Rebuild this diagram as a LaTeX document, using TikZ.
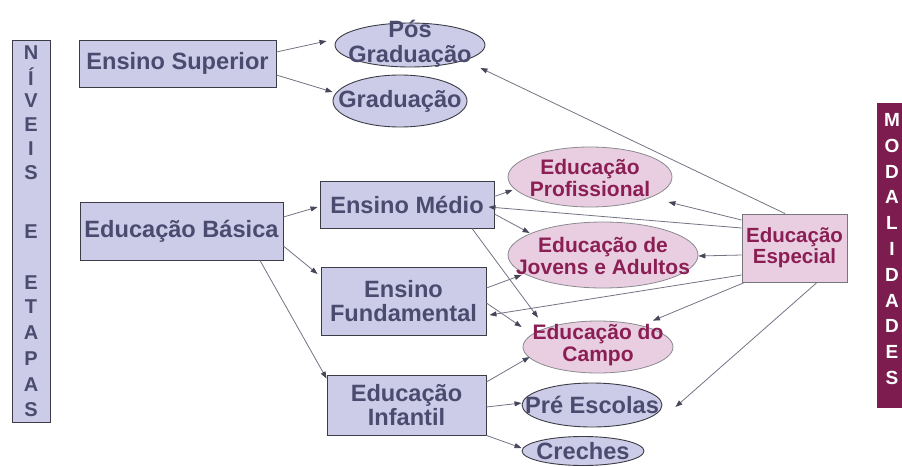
\documentclass[tikz,border=0pt]{standalone}
\usepackage{fontspec}
\setmainfont{Liberation Sans}
\usetikzlibrary{shapes.geometric,arrows.meta}
\definecolor{bfill}{RGB}{204,204,232}
\definecolor{btext}{RGB}{75,75,112}
\definecolor{pfill}{RGB}{232,206,224}
\definecolor{ptext}{RGB}{139,31,85}
\definecolor{mfill}{RGB}{125,29,79}
\definecolor{edgec}{RGB}{60,60,70}
\definecolor{arrc}{RGB}{115,115,132}
\definecolor{arrh}{RGB}{70,70,90}
\begin{document}
\begin{tikzpicture}[x=1pt,y=-1pt,
  bbox/.style={rectangle,draw=edgec,line width=0.9pt,fill=bfill,text=btext,
    font=\fontsize{23.6}{24}\selectfont\bfseries,align=center,inner sep=0pt},
  bell/.style={ellipse,draw=edgec,line width=0.9pt,fill=bfill,inner sep=0pt},
  pell/.style={ellipse,draw=edgec!60,line width=0.8pt,fill=pfill,inner sep=0pt},
  btxt/.style={text=btext,font=\fontsize{23.6}{25}\selectfont\bfseries,align=center,inner sep=0pt},
  ptxt/.style={text=ptext,font=\fontsize{21}{22}\selectfont\bfseries,align=center,inner sep=0pt},
  pbox/.style={rectangle,draw=edgec!70,line width=0.9pt,fill=pfill,text=ptext,
    font=\fontsize{20.5}{21}\selectfont\bfseries,align=center,inner sep=0pt},
  lett/.style={text=btext,font=\fontsize{20}{20}\selectfont\bfseries,inner sep=0pt},
  rlett/.style={text=white,font=\fontsize{19}{19}\selectfont\bfseries,inner sep=0pt},
  conn/.style={draw=arrc,line width=0.8pt,-{Triangle[length=7pt,width=5pt,color=arrh]}}
]
\useasboundingbox (0,0) rectangle (902,466);

% side boxes
\node[rectangle,draw=edgec,line width=0.9pt,fill=bfill,minimum width=38pt,minimum height=382pt,inner sep=0pt] (niveis) at (31,231) {};
\foreach \l/\yy [count=\i] in {N/53,Í/77,V/101,E/125,I/149,S/173,E/232,E/283,T/307,A/333,P/359,A/385,S/410}
  \node[lett] (lv\i) at (31,\yy) {\l};

\node[rectangle,fill=mfill,minimum width=33pt,minimum height=305pt,inner sep=0pt,anchor=north west] (modal) at (877,103) {};
\foreach \l [count=\i] in {M,O,D,A,L,I,D,A,D,E,S}
  \node[rlett] (rv\i) at (892,{120+(\i-1)*25.8}) {\l};

% blue boxes
\node[bbox,minimum width=197pt,minimum height=47pt] (ensSup) at (177.5,63.5) {Ensino Superior};
\node[bbox,minimum width=203pt,minimum height=58pt] (edBas) at (181.5,231) {Educação Básica};
\node[bbox,minimum width=174pt,minimum height=47pt] (medio) at (407,204.5) {Ensino Médio};
\node[bbox,minimum width=165pt,minimum height=68pt] (fund) at (403.5,301) {Ensino\\Fundamental};
\node[bbox,minimum width=159pt,minimum height=60pt] (infantil) at (406.5,405) {Educação\\Infantil};

% blue ellipses
\node[bell,minimum width=150pt,minimum height=44pt] (pos) at (410,45) {};
\node[btxt] (posT) at (410,44) {Pós\\Graduação};
\node[bell,minimum width=134pt,minimum height=52pt] (grad) at (400,101) {};
\node[btxt] (gradT) at (400,101) {Graduação};
\node[bell,minimum width=140pt,minimum height=44pt] (pre) at (592,405) {};
\node[btxt] (preT) at (592,405) {Pré Escolas};
\node[bell,minimum width=122pt,minimum height=29pt] (creches) at (583,451) {};
\node[btxt] (crechesT) at (583,451) {Creches};

% pink ellipses
\node[pell,minimum width=164pt,minimum height=60pt] (prof) at (590,177) {};
\node[ptxt] (profT) at (590,178) {Educação\\Profissional};
\node[pell,minimum width=190pt,minimum height=66pt] (eja) at (603,255) {};
\node[ptxt] (ejaT) at (603,256) {Educação de\\Jovens e Adultos};
\node[pell,minimum width=150pt,minimum height=52pt] (campo) at (598,347) {};
\node[ptxt] (campoT) at (598,345) {Educação do\\Campo};

% pink box
\node[pbox,minimum width=105pt,minimum height=68pt] (esp) at (794.5,248) {Educação\\Especial};

% connectors
\draw[conn] ([yshift=11.5pt]ensSup.east) -- ([xshift=-8pt,yshift=4pt]pos.west);
\draw[conn] ([yshift=-11.5pt]ensSup.east) -- ([yshift=9pt]grad.west);
\draw[conn] ([yshift=14pt]edBas.east) -- ([xshift=-2pt,yshift=-2.5pt]medio.west);
\draw[conn] ([yshift=-15pt]edBas.east) -- ([xshift=-3pt,yshift=27pt]fund.west);
\draw[conn] ([xshift=78.5pt]edBas.south) -- ([yshift=-4pt]infantil.north west);
\draw[conn] ([yshift=8pt]medio.east) -- ([xshift=5pt,yshift=-13pt]prof.west);
\draw[conn] ([yshift=-9.5pt]medio.east) -- ([xshift=22pt,yshift=22pt]eja.west);
\draw[conn] ([xshift=65pt]medio.south) -- ([xshift=-60pt,yshift=3pt]campo.north);
\draw[conn] ([yshift=20pt]esp.west) -- ([xshift=-6pt,yshift=-2.5pt]medio.east);
\draw[conn] ([yshift=28pt]esp.west) -- ([xshift=-4pt,yshift=-25pt]prof.east);
\draw[conn] ([xshift=-9.5pt]esp.north) -- ([xshift=-5pt,yshift=-23pt]pos.east);
\draw[conn] ([yshift=-7pt]esp.west) -- ([yshift=-1pt]eja.east);
\draw[conn] ([yshift=-27pt]esp.west) -- ([xshift=3pt,yshift=-14pt]fund.east);
\draw[conn] ([xshift=3pt]esp.south west) -- ([xshift=55pt]campo.north);
\draw[conn] ([xshift=22.5pt]esp.south) -- ([xshift=13pt,yshift=-2pt]pre.east);
\draw[conn] ([yshift=13pt]fund.east) -- ([xshift=14pt,yshift=-20pt]eja.west);
\draw[conn] ([yshift=-2pt]fund.east) -- ([xshift=-1pt,yshift=20pt]campo.west);
\draw[conn] ([yshift=23pt]infantil.east) -- ([xshift=7pt,yshift=-10pt]campo.west);
\draw[conn] ([yshift=-2pt]infantil.east) -- ([yshift=2pt]pre.west);
\draw[conn] (infantil.south east) -- ([yshift=3pt]creches.west);
\end{tikzpicture}
\end{document}
